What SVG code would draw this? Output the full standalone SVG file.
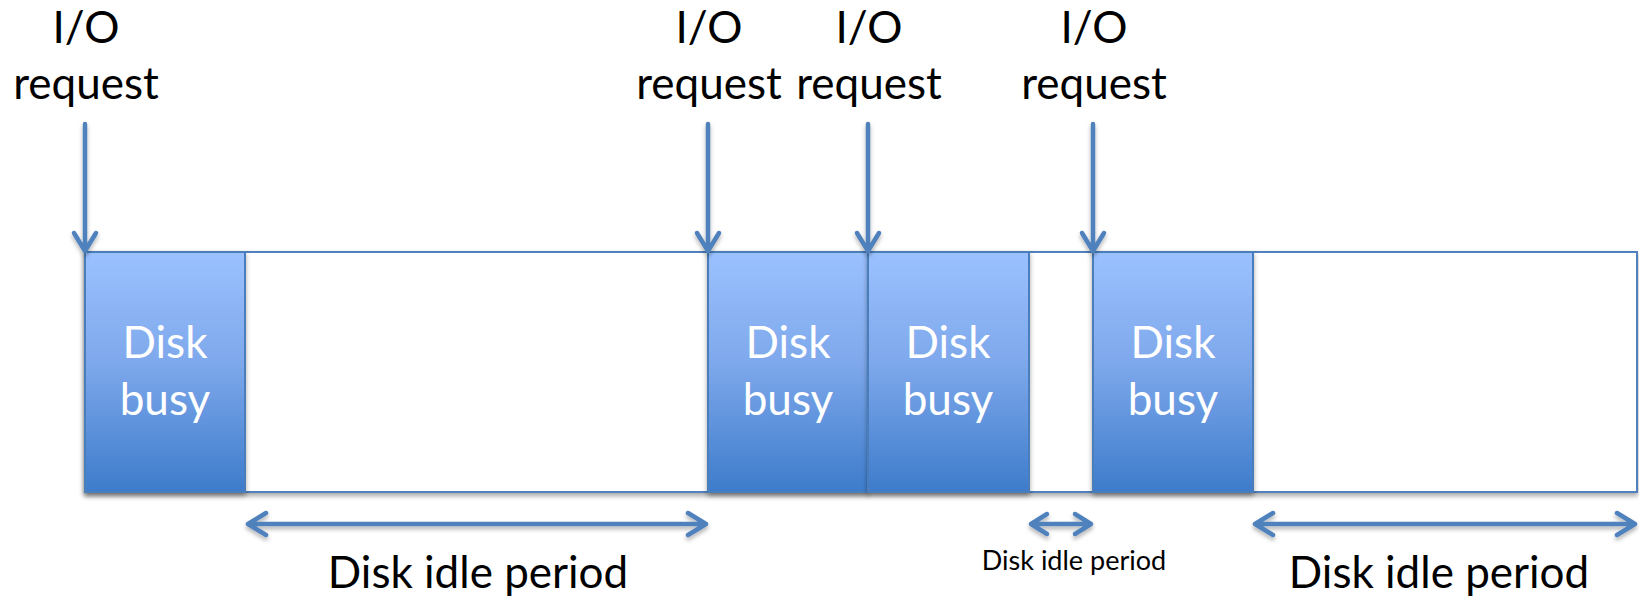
<svg xmlns="http://www.w3.org/2000/svg" width="1639" height="598" viewBox="0 0 1639 598">
  <defs>
    <linearGradient id="busyFill" x1="0" y1="0" x2="0" y2="1">
      <stop offset="0" stop-color="#9BC1FF"/>
      <stop offset="0.45" stop-color="#7FA9EC"/>
      <stop offset="1" stop-color="#3D7CCB"/>
    </linearGradient>
    <filter id="shadow" x="-5%" y="-5%" width="110%" height="115%">
      <feDropShadow dx="0" dy="3" stdDeviation="2.5" flood-color="#000" flood-opacity="0.35"/>
    </filter>
    <filter id="arrowShadow" x="-10%" y="-50%" width="120%" height="200%">
      <feDropShadow dx="0" dy="3" stdDeviation="2" flood-color="#000" flood-opacity="0.3"/>
    </filter>
  </defs>
  <style>
    .label { font-family: Lato, "Liberation Sans", sans-serif; font-size: 44px; fill: #000; text-anchor: middle; }
    .small { font-size: 27px; }
    .busyText { font-family: Lato, "Liberation Sans", sans-serif; font-size: 44px; fill: #fff; text-anchor: middle; }
    .timeline { fill: #fff; stroke: #4F81BD; stroke-width: 2; }
    .busy { fill: url(#busyFill); stroke: #4A7EBB; stroke-width: 2; }
    .wire { fill: none; stroke: #4F81BD; stroke-width: 4.5; stroke-linecap: round; stroke-linejoin: round; }
  </style>

  <rect width="1639" height="598" fill="#fff"/>

  <!-- timeline outline -->
  <g id="timeline">
    <rect class="timeline" x="85" y="252" width="1552" height="240" filter="url(#shadow)"/>
  </g>

  <!-- disk busy blocks -->
  <g id="busy1">
    <rect class="busy" x="85" y="252" width="160" height="240" filter="url(#shadow)"/>
    <text class="busyText" x="165" y="358">Disk</text>
    <text class="busyText" x="165" y="415">busy</text>
  </g>
  <g id="busy2">
    <rect class="busy" x="708" y="252" width="160" height="240" filter="url(#shadow)"/>
    <text class="busyText" x="788" y="358">Disk</text>
    <text class="busyText" x="788" y="415">busy</text>
  </g>
  <g id="busy3">
    <rect class="busy" x="868" y="252" width="161" height="240" filter="url(#shadow)"/>
    <text class="busyText" x="948" y="358">Disk</text>
    <text class="busyText" x="948" y="415">busy</text>
  </g>
  <g id="busy4">
    <rect class="busy" x="1093" y="252" width="160" height="240" filter="url(#shadow)"/>
    <text class="busyText" x="1173" y="358">Disk</text>
    <text class="busyText" x="1173" y="415">busy</text>
  </g>

  <!-- request labels -->
  <g id="req1">
    <text class="label" x="86" y="43">I/O</text>
    <text class="label" x="86" y="99">request</text>
  </g>
  <g id="req2">
    <text class="label" x="709" y="43">I/O</text>
    <text class="label" x="709" y="99">request</text>
  </g>
  <g id="req3">
    <text class="label" x="869" y="43">I/O</text>
    <text class="label" x="869" y="99">request</text>
  </g>
  <g id="req4">
    <text class="label" x="1094" y="43">I/O</text>
    <text class="label" x="1094" y="99">request</text>
  </g>

  <!-- idle period labels -->
  <g id="idle1">
    <text class="label" x="478" y="588">Disk idle period</text>
  </g>
  <g id="idle2">
    <text class="label small" x="1074" y="570">Disk idle period</text>
  </g>
  <g id="idle3">
    <text class="label" x="1439" y="588">Disk idle period</text>
  </g>

  <!-- connectors -->
  <g id="connectors" class="wire">
    <g filter="url(#arrowShadow)">
      <path d="M85 124 V250 M74 233 L85 251 L96 233"/>
      <path d="M708 124 V250 M697 233 L708 251 L719 233"/>
      <path d="M868 124 V250 M857 233 L868 251 L879 233"/>
      <path d="M1093 124 V250 M1082 233 L1093 251 L1104 233"/>
    </g>
    <g filter="url(#arrowShadow)">
      <path d="M248 524 H706 M266 513 L248 524 L266 535 M688 513 L706 524 L688 535"/>
      <path d="M1031 524 H1091 M1047 514 L1031 524 L1047 534 M1075 514 L1091 524 L1075 534"/>
      <path d="M1255 524 H1635 M1273 513 L1255 524 L1273 535 M1617 513 L1635 524 L1617 535"/>
    </g>
  </g>
</svg>
